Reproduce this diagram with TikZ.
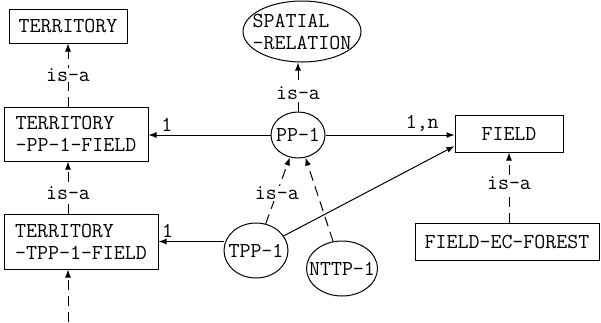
\documentclass[tikz,border=0pt]{standalone}
\usepackage{fontspec}
\usetikzlibrary{shapes.geometric, arrows.meta}
\newcommand{\diagfont}{\ttfamily\fontsize{21.3}{22}\selectfont}
\tikzstyle{concept} = [rectangle, draw=black, align=left, text centered]
\tikzstyle{relation} = [ellipse, draw=black, inner sep=0pt]
\tikzstyle{tag} = [fill=white, inner sep=1pt]
\tikzstyle{arrow} = [line width=1pt,-{Latex[length=8pt,width=6pt]}]
\tikzstyle{isa} = [arrow, dash pattern=on 10pt off 6pt]

\begin{document}
\begin{tikzpicture}[x=1pt, y=-1pt, font=\diagfont, line width=1pt]
	\useasboundingbox (0,0) rectangle (601,322);
	\node (terr) [concept, minimum width=118pt, minimum height=34pt] at (68,26) {TERRITORY};
	\node (terrpp) [concept, minimum width=144pt, minimum height=54pt] at (76,134) {TERRITORY\\-PP-1-FIELD};
	\node (terrtpp) [concept, minimum width=154pt, minimum height=55pt] at (81,241.5) {TERRITORY\\-TPP-1-FIELD};
	\node (field) [concept, minimum width=108pt, minimum height=37pt] at (509,133.5) {FIELD};
	\node (fieldec) [concept, minimum width=184pt, minimum height=37pt] at (507,241.5) {FIELD-EC-FOREST};
	
	\node (spatial) [relation, minimum width=118pt, minimum height=61pt, label={[align=left]center:SPATIAL\\-RELATION}] at (302,31.5) {};
	\node (pp) [relation, minimum width=54pt, minimum height=46pt, label={center:PP-1}] at (298,135) {};
	\node (tpp) [relation, minimum width=64pt, minimum height=55pt, label={center:TPP-1}] at (256,250.5) {};
	\node (nttp) [relation, minimum width=71pt, minimum height=55pt, label={center:NTTP-1}] at (342,268.5) {};
	\coordinate (below) at (68,322);
	
	\draw [isa] (terr |- terrpp.north) -- node [tag] {is-a} (terr);
	\draw [isa] (terr |- terrtpp.north) -- node [tag, pos=0.4] {is-a} (terr |- terrpp.south);
	\draw [isa] (below) -- (below |- terrtpp.south);
	\draw [isa] (pp) -- node [tag, pos=0.38] {is-a} (pp |- spatial.south);
	\draw [isa] (tpp) -- node [tag, pos=0.46] {is-a} (pp);
	\draw [isa] (nttp) -- (pp);
	\draw [isa] (field |- fieldec.north) -- node [tag, pos=0.56] {is-a} (field);
	
	\draw [arrow] (pp.west) -- node [above, pos=0.85] {1} (pp.west -| terrpp.east);
	\draw [arrow] (pp.east) -- node [above, pos=0.75] {1,n} (pp.east -| field.west);
	\draw [arrow] (terrtpp -| tpp.west) -- node [above, pos=0.86] {1} (terrtpp.east);
	\draw [arrow] (tpp) -- (field.193);
\end{tikzpicture}
\end{document}
